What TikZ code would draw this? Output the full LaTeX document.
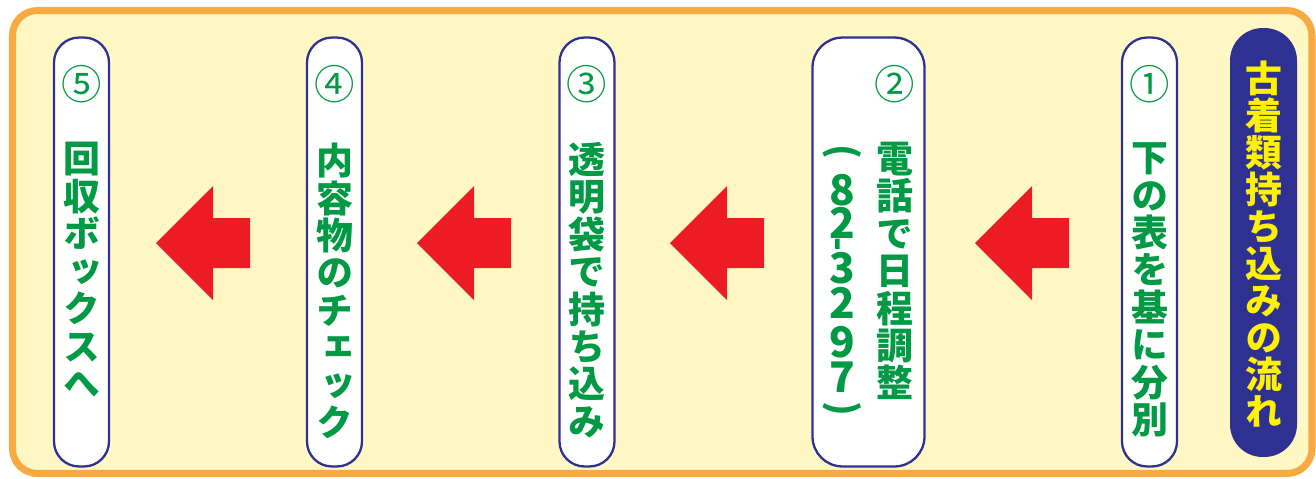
\documentclass[tikz,border=0pt]{standalone}
\usepackage{fontspec}
\usepackage{graphicx}
\newfontfamily\jpfont{Noto Sans CJK JP}[RawFeature=+vert]
\newfontfamily\jpplain{Noto Sans CJK JP}
\usetikzlibrary{positioning}
\definecolor{bgyellow}{RGB}{255,248,197}
\definecolor{frameorange}{RGB}{248,170,64}
\definecolor{navy}{RGB}{46,49,146}
\definecolor{stepgreen}{RGB}{0,153,68}
\definecolor{arrowred}{RGB}{237,28,36}
\definecolor{titleyellow}{RGB}{255,241,0}
\tikzset{
	frame/.style={draw=frameorange, line width=4pt, fill=bgyellow, rounded corners=0.5cm},
	titlebox/.style={fill=navy, rounded corners=0.65cm, minimum width=1.34cm, minimum height=8.58cm, inner sep=0},
	stepbox/.style={draw=navy, line width=1.3pt, fill=white, rounded corners=0.5cm, minimum width=1.1cm, minimum height=8.58cm, inner sep=0},
	widebox/.style={stepbox, rounded corners=0.6cm, minimum width=2.24cm},
	stepnum/.style={text=stepgreen, inner sep=0, font=\jpfont\fontsize{23}{23}\selectfont},
	tate/.style={text=stepgreen, align=center, inner sep=0, font=\jpfont\bfseries\fontsize{21}{21.3}\selectfont},
	telchar/.style={text=stepgreen, inner sep=0, font=\jpplain\bfseries\fontsize{24}{24}\selectfont},
	telparen/.style={text=stepgreen, inner sep=0, rotate=-90, font=\jpplain\bfseries\fontsize{21}{21}\selectfont},
	titletext/.style={text=titleyellow, align=center, inner sep=0, font=\jpfont\bfseries\fontsize{21}{21.1}\selectfont},
	redarrow/.style={fill=arrowred}
}

\begin{document}
\begin{tikzpicture}[x=0.02cm,y=-0.02cm]
	\useasboundingbox (0,0) rectangle (1316,478);
	\draw[frame] (12.5,10.5) rectangle (1312,473.5);
	%%%title
	\node[titlebox] (title) at (1263.5,242.5) {};
	\node[titletext] (titletxt) at (1264,244) {古\\着\\類\\持\\ち\\込\\み\\の\\流\\れ};
	%%%step 1
	\node[stepbox] (s1) at (1149.5,252) {};
	\node[stepnum] (n1) at (1149.5,84) {①};
	\node[tate] (t1) at (1149.5,290) {下\\の\\表\\を\\基\\に\\分\\別};
	%%%step 2
	\node[widebox] (s2) at (868.5,252) {};
	\node[stepnum] (n2) at (895,84) {②};
	\node[tate] (t2) at (895,271) {電\\話\\で\\日\\程\\調\\整};
	\node[telparen] (telopen) at (842,152) {(};
	\foreach \ch/\y [count=\i] in {8/190,2/223,3/268,2/303,9/342,7/377}
		\node[telchar] (tel\i) at (842,\y) {\ch};
	\node[telparen, rotate=180] (teldash) at (842,244) {-};
	\node[telparen] (telclose) at (842,409) {)};
	%%%step 3
	\node[stepbox] (s3) at (587,252) {};
	\node[stepnum] (n3) at (587,84) {③};
	\node[tate] (t3) at (587,290) {透\\明\\袋\\で\\持\\ち\\込\\み};
	%%%step 4
	\node[stepbox] (s4) at (334.5,252) {};
	\node[stepnum] (n4) at (334.5,84) {④};
	\node[tate] (t4) at (334.5,291) {内\\容\\物\\の\\チ\\ェ\\ッ\\ク};
	%%%step 5
	\node[stepbox] (s5) at (81.5,252) {};
	\node[stepnum] (n5) at (81.5,84) {⑤};
	\node[tate] (t5) at (81.5,270) {回\\収\\ボ\\ッ\\ク\\ス\\へ};
	%%%arrows
	\foreach \tip in {156,417,670,975}
		\fill[redarrow] (\tip,243) -- ++(57,-57) -- ++(0,32) -- ++(37,0) -- ++(0,50) -- ++(-37,0) -- ++(0,32) -- cycle;
\end{tikzpicture}
\end{document}
